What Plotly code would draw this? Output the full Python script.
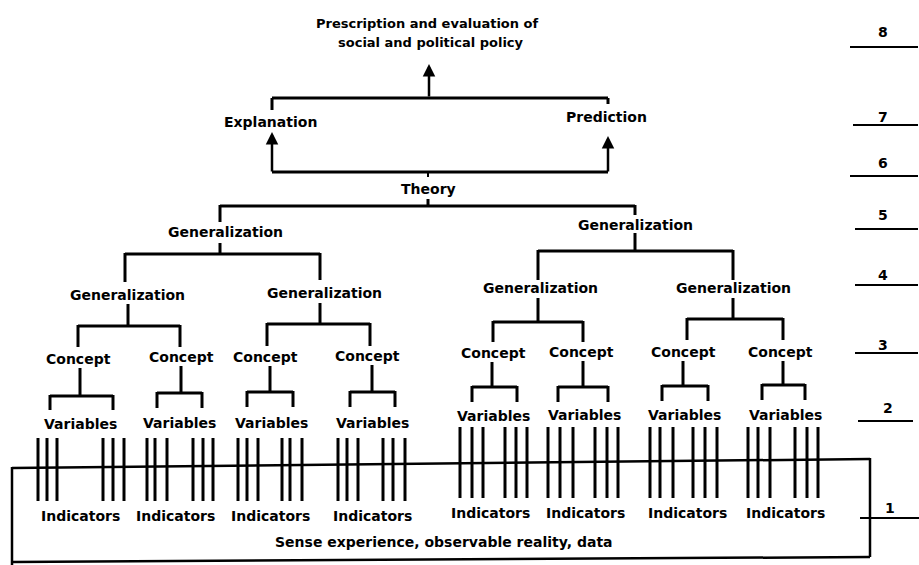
import plotly.graph_objects as go

W, H = 919, 565

# ---------------- data: labels of the diagram ----------------
level_labels = ["8", "7", "6", "5", "4", "3", "2", "1"]
level_label_x = [883, 883, 883, 883, 883, 883, 888, 890]
level_label_y = [32, 117, 163, 215, 275, 345, 408, 508]
level_line_y = [47, 125, 176, 229, 285, 353, 421, 518]
level_line_x0 = [850, 853, 850, 855, 855, 855, 858, 860]
level_line_x1 = [918, 918, 918, 918, 918, 918, 913, 919]

policy_lines = ["Prescription and evaluation of", "social and political policy"]
policy_x = [427, 431]
policy_y = [23, 42]

use_labels = ["Explanation", "Prediction"]
use_x = [270, 606]
use_y = [122, 117]

theory_label = "Theory"
theory_x, theory_y = 428, 189

gen5_labels = ["Generalization", "Generalization"]
gen5_x = [225, 635]
gen5_y = [232, 225]

gen4_labels = ["Generalization"] * 4
gen4_x = [127, 324, 540, 733]
gen4_y = [295, 293, 288, 288]

concept_labels = ["Concept"] * 8
concept_x = [78, 181, 265, 367, 493, 581, 683, 780]
concept_y = [359, 357, 357, 356, 353, 352, 352, 352]

variable_labels = ["Variables"] * 8
variable_x = [80, 179, 271, 372, 493, 584, 684, 785]
variable_y = [424, 423, 423, 423, 416, 415, 415, 415]

indicator_labels = ["Indicators"] * 8
indicator_label_x = [80, 175, 270, 372, 490, 585, 687, 785]
indicator_label_y = [516, 516, 516, 516, 513, 513, 513, 513]

# x-positions of the six indicator strokes under each "Variables"
indicator_strokes = [
    [38, 47, 57, 103, 113, 124],
    [147, 155, 167, 193, 203, 213],
    [238, 247, 258, 282, 290, 302],
    [338, 347, 358, 383, 393, 405],
    [460, 472, 483, 505, 516, 527],
    [548, 560, 573, 595, 607, 618],
    [650, 660, 673, 693, 705, 717],
    [748, 758, 770, 795, 807, 818],
]
stroke_top = [438, 438, 438, 438, 427, 427, 427, 427]
stroke_bottom = [501, 501, 501, 501, 498, 498, 498, 498]

sense_label = "Sense experience, observable reality, data"
sense_x, sense_y = 444, 542

# brackets: stem x, stem top, bar y, bar x0, bar x1, left leg end, right leg end
brackets = [
    (428, 199, 206, 220, 635, 222, 215),      # theory -> generalizations
    (220, 243, 254, 125, 320, 282, 280),
    (635, 233, 251, 538, 733, 280, 280),
    (128, 304, 326, 78, 180, 347, 347),
    (320, 303, 324, 267, 370, 346, 346),
    (538, 298, 322, 493, 583, 342, 342),
    (733, 298, 319, 687, 783, 340, 340),
    (80, 368, 396, 50, 113, 410, 410),
    (181, 366, 393, 157, 202, 408, 408),
    (270, 366, 392, 247, 293, 407, 407),
    (372, 365, 392, 350, 395, 407, 407),
    (492, 362, 387, 472, 517, 402, 402),
    (583, 361, 387, 558, 608, 402, 402),
    (683, 361, 386, 662, 708, 401, 401),
    (783, 361, 385, 762, 805, 400, 400),
]

# ---------------- figure ----------------
FONT = dict(family="DejaVu Sans", size=14, color="black", weight="bold")
shapes = []
annotations = []


def line(x0, y0, x1, y1, w=3):
    shapes.append(dict(type="line", xref="x", yref="y", x0=x0, y0=y0, x1=x1, y1=y1,
                       line=dict(color="black", width=w)))


def text(s, x, y, size=14):
    f = dict(FONT)
    f["size"] = size
    annotations.append(dict(text=s, x=x, y=y, xref="x", yref="y", showarrow=False,
                            font=f, xanchor="center", yanchor="middle"))


def arrow(x, y_tail, y_head):
    annotations.append(dict(text="", x=x, y=y_head, ax=x, ay=y_tail, xref="x", yref="y",
                            axref="x", ayref="y", showarrow=True, arrowhead=2,
                            arrowsize=1.0, arrowwidth=2.5, arrowcolor="black"))


# level scale
for lab, lx, ly, yy, x0, x1 in zip(level_labels, level_label_x, level_label_y,
                                   level_line_y, level_line_x0, level_line_x1):
    text(lab, lx, ly, 14)
    line(x0, yy, x1, yy, 2)

# policy level
for s, x, y in zip(policy_lines, policy_x, policy_y):
    text(s, x, y, 13)
arrow(429, 98, 64)
line(272, 98, 608, 98)
line(272, 98, 272, 110)
line(608, 98, 608, 104)

for s, x, y in zip(use_labels, use_x, use_y):
    text(s, x, y)
line(272, 172, 608, 172)
arrow(272, 173, 132)
arrow(608, 173, 136)
line(428, 172, 428, 177, 2)

text(theory_label, theory_x, theory_y)

for s, x, y in zip(gen5_labels, gen5_x, gen5_y):
    text(s, x, y)
for s, x, y in zip(gen4_labels, gen4_x, gen4_y):
    text(s, x, y)
for s, x, y in zip(concept_labels, concept_x, concept_y):
    text(s, x, y)
for s, x, y in zip(variable_labels, variable_x, variable_y):
    text(s, x, y)
for s, x, y in zip(indicator_labels, indicator_label_x, indicator_label_y):
    text(s, x, y)

for sx, st, by, bx0, bx1, l0, l1 in brackets:
    line(sx, st, sx, by)
    line(bx0, by, bx1, by)
    line(bx0, by - 1, bx0, l0)
    line(bx1, by - 1, bx1, l1)

for xs, t, b in zip(indicator_strokes, stroke_top, stroke_bottom):
    for x in xs:
        line(x, t, x, b, 3)

# reality box
line(12, 468, 870, 459, 2.5)
line(870, 458, 870, 557, 2.5)
line(870, 557, 12, 562, 2.5)
line(12, 467, 12, 565, 2.5)
text(sense_label, sense_x, sense_y)

fig = go.Figure()
fig.update_layout(
    width=W, height=H,
    margin=dict(l=0, r=0, t=0, b=0),
    paper_bgcolor="white", plot_bgcolor="white",
    xaxis=dict(range=[0, W], visible=False, fixedrange=True),
    yaxis=dict(range=[H, 0], visible=False, fixedrange=True),
    shapes=shapes, annotations=annotations, showlegend=False,
)
fig.write_html(
    "out.html",
    config={"displayModeBar": False},
    post_script="document.body.style.margin='0';document.body.style.overflow='hidden';",
)
